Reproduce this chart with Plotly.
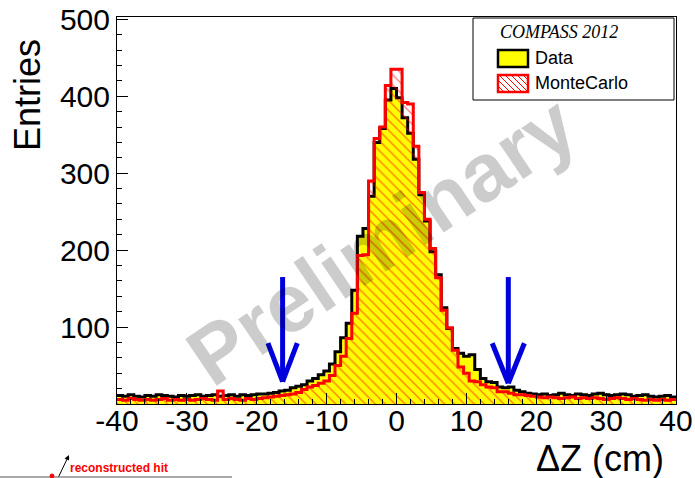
import numpy as np
import plotly.graph_objects as go

# Histogram binning: 100 bins of 0.8 cm between -40 and 40 cm
x_min, x_max, n_bins = -40.0, 40.0, 100

data_counts = [
    11, 10, 12, 10, 9, 11, 10, 12, 11, 10, 9, 11, 10, 11, 12, 10, 11, 12, 10, 11,
    12, 10, 12, 11, 12, 13, 13, 14, 15, 17, 18, 21, 23, 25, 30, 33, 38, 43, 52, 68,
    86, 105, 148, 218, 228, 270, 340, 358, 395, 410, 398, 372, 352, 318, 272, 238, 198, 168, 125, 98,
    72, 66, 62, 64, 45, 33, 29, 28, 22, 21, 22, 18, 16, 14, 13, 12, 13, 11, 12, 14,
    12, 11, 13, 12, 11, 13, 14, 12, 11, 12, 13, 12, 10, 11, 12, 10, 9, 10, 11, 9,
]

mc_counts = [
    6, 5, 7, 6, 5, 6, 5, 6, 7, 5, 6, 5, 6, 5, 6, 7, 6, 5, 17, 6,
    7, 6, 5, 7, 6, 7, 8, 9, 10, 11, 12, 13, 15, 19, 22, 24, 27, 30, 37, 50,
    62, 85, 118, 193, 194, 290, 345, 360, 414, 435, 435, 392, 390, 335, 275, 240, 202, 164, 122, 99,
    70, 48, 40, 30, 29, 25, 22, 21, 16, 16, 14, 12, 12, 11, 10, 9, 8, 9, 8, 7,
    8, 9, 7, 8, 7, 8, 7, 6, 7, 8, 7, 6, 7, 6, 5, 6, 5, 6, 5, 6,
]

x_ticks = [-40, -30, -20, -10, 0, 10, 20, 30, 40]
y_ticks = [100, 200, 300, 400, 500]

edges = np.linspace(x_min, x_max, n_bins + 1)


def step_y(counts):
    return list(counts) + [counts[-1]]


W, H = 695, 478
L, R, T, B = 117, 19, 17, 74
PW, PH = W - L - R, H - T - B


def px(x):
    return (x - L) / PW


def py(y):
    return (H - B - y) / PH


FONT = "Liberation Sans, Arial, sans-serif"

fig = go.Figure()

# Data: yellow filled step histogram with black outline
fig.add_trace(go.Scatter(
    x=edges, y=step_y(data_counts), mode="lines", line_shape="hv",
    line=dict(color="black", width=3), fill="tozeroy",
    fillcolor="#ffff00", name="Data", showlegend=False,
))

# MonteCarlo: red hatched step histogram
fig.add_trace(go.Scatter(
    x=edges, y=step_y(mc_counts), mode="lines", line_shape="hv",
    line=dict(color="#ff0000", width=3), fill="tozeroy",
    fillcolor="rgba(0,0,0,0)",
    fillpattern=dict(shape="\\", fgcolor="#ff0000", bgcolor="rgba(0,0,0,0)",
                     size=7, solidity=0.2),
    name="MonteCarlo", showlegend=False,
))

shapes = []
annotations = []

# Blue arrows marking the side regions
arrow_color = "#0000dd"
for xa, tip, top, dx, head in [(-16.3, 29, 165, 2.1, 79), (16.0, 27, 165, 2.3, 79)]:
    shapes.append(dict(type="line", xref="x", yref="y", x0=xa, x1=xa, y0=top, y1=tip,
                       line=dict(color=arrow_color, width=5), layer="above"))
    for s in (-1, 1):
        shapes.append(dict(type="line", xref="x", yref="y", x0=xa + s * dx, x1=xa,
                           y0=head, y1=tip, line=dict(color=arrow_color, width=5),
                           layer="above"))

# Legend box
shapes.append(dict(type="rect", xref="paper", yref="paper", x0=px(473), x1=px(674),
                   y0=py(100), y1=py(18), line=dict(color="black", width=1),
                   fillcolor="white", layer="above"))
shapes.append(dict(type="rect", xref="paper", yref="paper", x0=px(498), x1=px(528),
                   y0=py(67), y1=py(50), line=dict(color="black", width=2.5),
                   fillcolor="#ffff00", layer="above"))
shapes.append(dict(type="rect", xref="paper", yref="paper", x0=px(498), x1=px(528),
                   y0=py(92), y1=py(75), line=dict(color="#ff0000", width=2.5),
                   fillcolor="white", layer="above"))
bx0, bx1, by0, by1 = 498, 528, 75, 92
hh = by1 - by0
for x0 in range(bx0 - hh, bx1 + 1, 6):
    t0 = max(0, bx0 - x0)
    t1 = min(hh, bx1 - x0)
    if t1 > t0:
        shapes.append(dict(type="line", xref="paper", yref="paper",
                           x0=px(x0 + t0), y0=py(by0 + t0),
                           x1=px(x0 + t1), y1=py(by0 + t1),
                           line=dict(color="#ff0000", width=1), layer="above"))

annotations.append(dict(xref="paper", yref="paper", x=px(498), y=py(32),
                        xanchor="left", yanchor="middle", showarrow=False,
                        text="<i>COMPASS 2012</i>",
                        font=dict(family="Liberation Serif, Times New Roman, serif",
                                  size=18, color="black")))
annotations.append(dict(xref="paper", yref="paper", x=px(533), y=py(58),
                        xanchor="left", yanchor="middle", showarrow=False,
                        text="Data", font=dict(family=FONT, size=18, color="black")))
annotations.append(dict(xref="paper", yref="paper", x=px(533), y=py(83),
                        xanchor="left", yanchor="middle", showarrow=False,
                        text="MonteCarlo", font=dict(family=FONT, size=18, color="black")))

# Watermark
annotations.append(dict(xref="paper", yref="paper", x=px(381), y=py(240),
                        xanchor="center", yanchor="middle", showarrow=False,
                        text="<b>Preliminary</b>", textangle=-34,
                        font=dict(family=FONT, size=82, color="rgba(0,0,0,0.2)")))

# Axis titles
annotations.append(dict(xref="paper", yref="paper", x=px(27), y=py(95),
                        xanchor="center", yanchor="middle", showarrow=False,
                        text="Entries", textangle=-90,
                        font=dict(family=FONT, size=36, color="black")))
annotations.append(dict(xref="paper", yref="paper", x=px(666), y=py(458),
                        xanchor="right", yanchor="middle", showarrow=False,
                        text="ΔZ (cm)",
                        font=dict(family=FONT, size=36, color="black")))

# Sketch fragment in the lower left corner
shapes.append(dict(type="line", xref="paper", yref="paper", x0=px(0), x1=px(232),
                   y0=py(477), y1=py(477), line=dict(color="#555555", width=1)))
shapes.append(dict(type="circle", xref="paper", yref="paper", x0=px(50), x1=px(54),
                   y0=py(478), y1=py(474), line=dict(color="#ff0000", width=1),
                   fillcolor="#ff0000"))
annotations.append(dict(xref="paper", yref="paper", x=px(69), y=py(455),
                        ax=-11, ay=23, text="", showarrow=True, arrowhead=2,
                        arrowsize=1, arrowwidth=1, arrowcolor="black"))
annotations.append(dict(xref="paper", yref="paper", x=px(68), y=py(468),
                        xanchor="left", yanchor="middle", showarrow=False,
                        text="<b>reconstructed hit</b>",
                        font=dict(family=FONT, size=12, color="#ff0000")))

fig.update_layout(
    width=W, height=H,
    margin=dict(l=L, r=R, t=T, b=B, pad=0),
    paper_bgcolor="white", plot_bgcolor="white",
    showlegend=False,
    shapes=shapes, annotations=annotations,
    xaxis=dict(range=[x_min, x_max], tickvals=x_ticks,
               ticktext=[str(v) for v in x_ticks],
               ticks="inside", ticklen=11, ticklabelstandoff=-10,
               tickcolor="black", showline=True, linecolor="black", linewidth=1,
               mirror=True, showgrid=False, zeroline=False, automargin=False,
               tickfont=dict(family=FONT, size=30, color="black"),
               minor=dict(dtick=2, ticks="inside", ticklen=5, tickcolor="black",
                          showgrid=False)),
    yaxis=dict(range=[0, 503], tickvals=y_ticks,
               ticktext=[str(v) for v in y_ticks],
               ticks="inside", ticklen=11,
               tickcolor="black", showline=True, linecolor="black", linewidth=1,
               mirror=True, showgrid=False, zeroline=False, automargin=False,
               tickfont=dict(family=FONT, size=30, color="black"),
               minor=dict(dtick=20, ticks="inside", ticklen=5, tickcolor="black",
                          showgrid=False)),
)

fig.write_html("out.html")
